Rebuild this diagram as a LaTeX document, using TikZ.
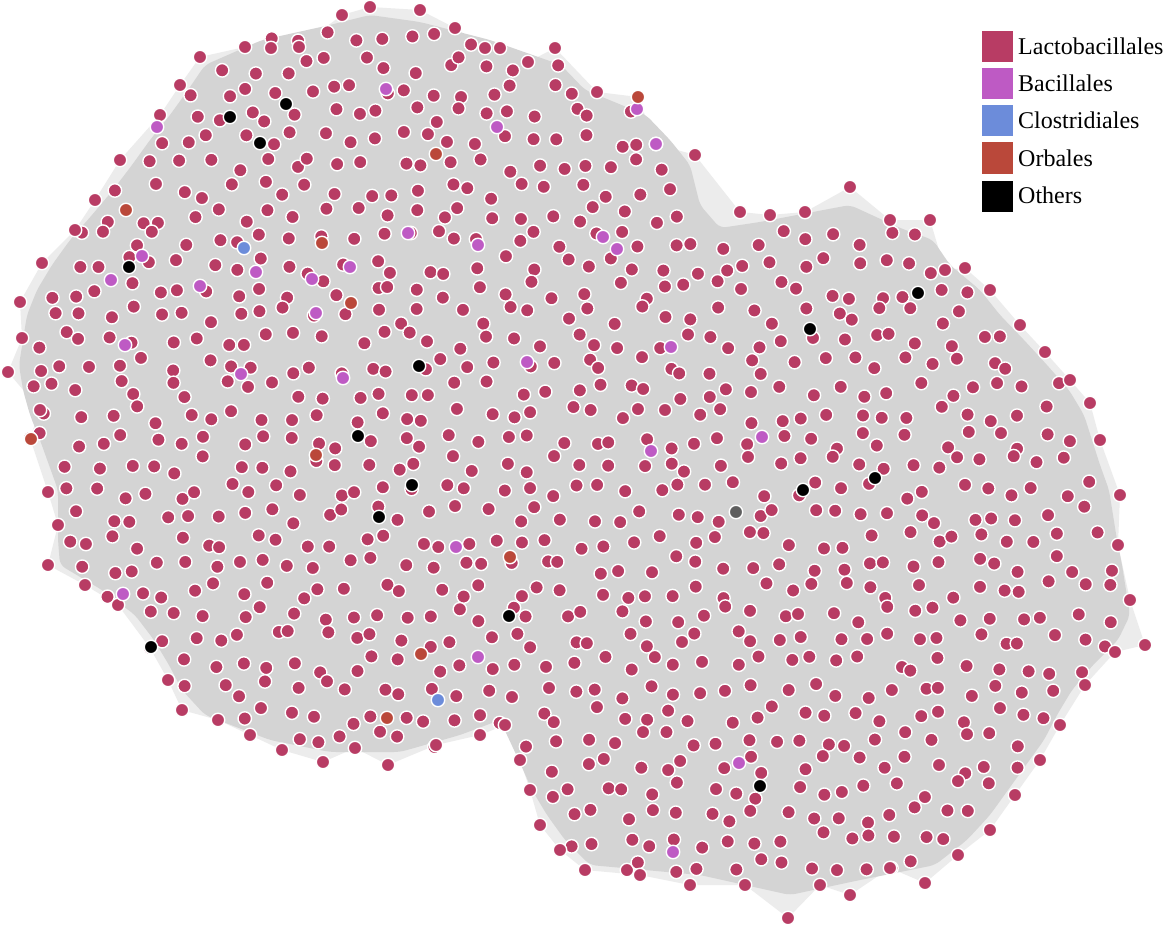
\documentclass[tikz,border=0pt]{standalone}
\usepackage{fontspec}
\setmainfont{Liberation Serif}
\definecolor{lacto}{RGB}{184,60,100}
\definecolor{bacil}{RGB}{190,90,196}
\definecolor{clost}{RGB}{108,140,218}
\definecolor{orbal}{RGB}{186,72,58}
\definecolor{othr}{RGB}{0,0,0}
\definecolor{othgray}{RGB}{95,95,95}
\definecolor{hullout}{RGB}{236,236,236}
\definecolor{hullin}{RGB}{212,212,212}
\tikzset{
  nd/.style={circle,draw=white,line width=1.4pt,fill=lacto,minimum size=13.5pt,inner sep=0pt},
  ndb/.style={nd,fill=bacil},
  ndc/.style={nd,fill=clost},
  ndo/.style={nd,fill=orbal},
  ndk/.style={nd,fill=othr},
  ndg/.style={nd,fill=othgray},
  legbox/.style={minimum size=31pt,inner sep=0pt,draw=none},
  legtxt/.style={anchor=base west,inner sep=0pt,font=\fontsize{24}{28}\selectfont}
}
\def\perim{200/57,245/47,271/48,299/47,342/15,370/7,420/10,455/28,485/48,500/48,528/62,555/48,597/92,638/97,656/144,695/155,
740/212,770/215,805/212,850/187,890/220,930/220,945/270,965/268,990/290,1020/325,1045/352,1070/380,1090/403,1100/440,1120/495,1118/545,1130/600,1145/645,1115/652,1085/685,1060/725,1040/760,1015/795,990/830,958/855,925/883,890/868,850/895,820/885,788/918,745/885,690/885,640/875,585/870,560/850,540/825,530/790,520/760,505/725,
480/735,436/745,388/765,355/748,323/762,282/750,250/735,218/720,182/710,168/680,150/648,118/605,85/585,48/565,58/525,48/492,30/438,40/410,8/372,22/338,20/302,42/263,75/230,95/200,120/160,160/115,180/85}
\begin{document}
\begin{tikzpicture}[x=1pt,y=-1pt]
\useasboundingbox (0,0) rectangle (1170,931);
\fill[white] (0,0) rectangle (1170,931);
% hull
\fill[hullout] (200,57) \foreach \a/\b in \perim {-- (\a,\b)} -- cycle;
\fill[hullin,rounded corners=6pt] (330,25) -- (262,40) -- (205,65) -- (188,90) -- (170,115) -- (150,140) -- (132,165) -- (113,190) -- (92,215) -- (70,240) -- (52,265) -- (37,290) -- (27,315) -- (23,340) -- (19,365) -- (23,390) -- (30,415) -- (40,440) -- (49,465) -- (58,490) -- (58,515) -- (58,540) -- (60,565) -- (102,590) -- (135,615) -- (154,640) -- (169,665) -- (182,690) -- (205,715) -- (270,740) -- (330,752) -- (400,752) -- (460,735) -- (500,720) -- (521,765) -- (532,790) -- (547,815) -- (565,840) -- (590,865) -- (700,875) -- (790,895) -- (860,880) -- (935,865) -- (967,840) -- (990,815) -- (1008,790) -- (1026,765) -- (1044,740) -- (1057,715) -- (1072,690) -- (1093,665) -- (1118,640) -- (1130,615) -- (1126,590) -- (1122,565) -- (1117,540) -- (1113,515) -- (1109,490) -- (1100,465) -- (1092,440) -- (1084,415) -- (1069,390) -- (1047,365) -- (1024,340) -- (1000,315) -- (980,290) -- (950,265) -- (933,240) -- (900,228) -- (850,205) -- (760,222) -- (720,228) -- (700,205) -- (690,165) -- (670,140) -- (646,115) -- (585,90) -- (561,65) -- (490,40) -- (420,22) -- (370,15) -- cycle;
% interior nodes
\pgfmathsetseed{12345}
\foreach \yy/\xl/\xr in {40/275/465,65/212/553,90/195/577,115/178/638,140/159/662,165/140/670,190/121/670,215/100/690,240/79/925,265/60/942,290/45/972,315/35/992,340/31/1016,365/27/1039,390/31/1061,415/38/1076,440/48/1084,465/57/1092,490/66/1101,515/66/1105,540/66/1109,565/66/1114,590/110/1115,615/143/1110,640/162/1110,665/177/1085,690/190/1064,715/225/1049,740/295/430,740/530/1034,765/540/1018,790/548/1000,815/555/982,840/573/959,865/605/920}{
  \pgfmathsetmacro\off{mod(int((\yy-40)/25),2)*13.5}
  \pgfmathtruncatemacro\N{(\xr-\xl-\off)/27}
  \foreach \k in {0,...,\N}{
    \pgfmathsetmacro\px{\xl+\off+27*\k+10*rand}
    \pgfmathsetmacro\py{\yy+9*rand}
    \node[nd] (g-\yy-\xl-\k) at (\px,\py) {};
  }
}
% perimeter nodes
\foreach \a/\b [count=\c] in \perim {\node[nd] (p\c) at (\a,\b) {};}
% Others
\foreach \a/\b [count=\c] in {230/117,286/104,260/143,129/267,419/366,358/436,412/485,379/517,509/616,151/647,918/293,810/329,803/490,875/478,760/786}{\node[ndk] (k\c) at (\a,\b) {};}
\node[ndg] (gk1) at (736,512) {};
% Bacillales
\foreach \a/\b [count=\c] in {386/89,637/109,157/127,497/127,656/144,408/233,478/245,603/237,617/249,142/256,256/272,350/267,111/280,312/279,200/286,316/313,671/347,125/345,527/362,241/374,343/378,762/437,651/451,456/547,123/594,478/657,739/763,673/852}{\node[ndb] (b\c) at (\a,\b) {};}
% Clostridiales
\node[ndc] (c1) at (244,248) {};
\node[ndc] (c2) at (438,700) {};
% Orbales
\foreach \a/\b [count=\c] in {638/97,436/154,126/210,322/243,351/303,31/439,316/455,510/557,421/654,387/718}{\node[ndo] (o\c) at (\a,\b) {};}
% legend
\node[legbox,fill=lacto] (lb1) at (997,47) {};
\node[legbox,fill=bacil] (lb2) at (997,84) {};
\node[legbox,fill=clost] (lb3) at (997,121) {};
\node[legbox,fill=orbal] (lb4) at (997,158) {};
\node[legbox,fill=othr] (lb5) at (997,196) {};
\node[legtxt] (lt1) at (1018,55) {Lactobacillales};
\node[legtxt] (lt2) at (1018,92) {Bacillales};
\node[legtxt] (lt3) at (1018,129) {Clostridiales};
\node[legtxt] (lt4) at (1018,166) {Orbales};
\node[legtxt] (lt5) at (1018,204) {Others};
\end{tikzpicture}
\end{document}
